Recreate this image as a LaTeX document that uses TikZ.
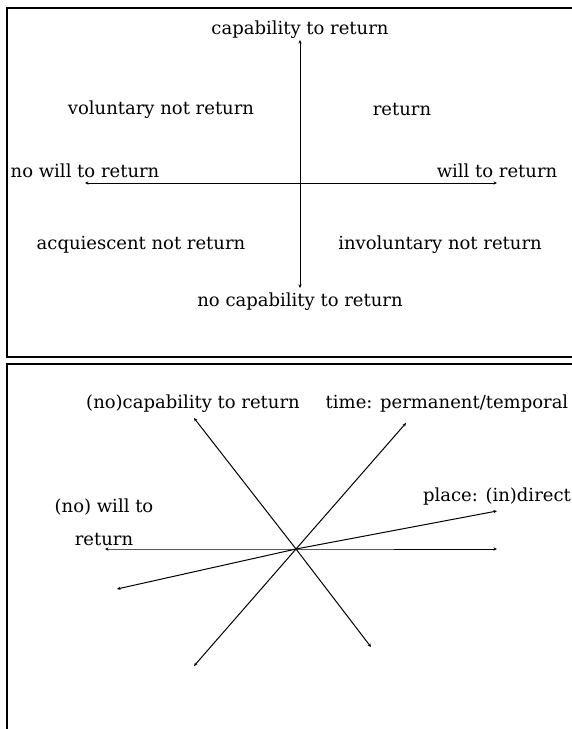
\documentclass[tikz,border=0pt]{standalone}
\usepackage{fontspec}
\setmainfont{DejaVu Serif}
\usetikzlibrary{arrows.meta}
\begin{document}
\begin{tikzpicture}[x=1pt,y=-1pt,
  lbl/.style={font=\fontsize{18}{21}\selectfont, inner sep=0pt, text=black},
  frame/.style={line width=2pt, draw=black},
  axis/.style={line width=1pt, {Stealth[length=3.5pt,width=3.2pt]}-{Stealth[length=3.5pt,width=3.2pt]}}]
\useasboundingbox (0,0) rectangle (572,729);
\clip (0,0) rectangle (572,729);
% frames
\draw[frame] (7,8) rectangle (590,357);
\draw[frame] (7,364) rectangle (590,760);
% top diagram
\coordinate (tN) at (300,40);
\coordinate (tS) at (300,288);
\coordinate (tW) at (85,183);
\coordinate (tE) at (497,183);
\draw[axis] (tS) -- (tN);
\draw[axis] (tW) -- (tE);
\node[lbl] (capN) at (300,30) {capability to return};
\node[lbl] (vol) at (161,110) {voluntary not return};
\node[lbl] (ret) at (402,110) {return};
\node[lbl] (nowill) at (85,171) {no will to return};
\node[lbl] (will) at (497,171) {will to return};
\node[lbl] (acq) at (141,245) {acquiescent not return};
\node[lbl] (invol) at (440,245) {involuntary not return};
\node[lbl] (capS) at (300,302) {no capability to return};
% bottom diagram
\coordinate (C) at (296,549);
\coordinate (hW) at (105,549);
\coordinate (hE) at (497,549);
\coordinate (cUL) at (194,418);
\coordinate (cLR) at (371,647);
\coordinate (tUR) at (406,423);
\coordinate (tLL) at (194,666);
\coordinate (pUR) at (497,511);
\coordinate (pLL) at (117,589);
\draw[axis] (hW) -- (C) -- (hE);
\draw[axis] (cUL) -- (C) -- (cLR);
\draw[axis] (tLL) -- (C) -- (tUR);
\draw[axis] (pLL) -- (C) -- (pUR);
\node[lbl] (capB) at (193,404) {(no)capability to return};
\node[lbl] (time) at (447,404) {time: permanent/temporal};
\node[lbl, align=center] (willB) at (104,522) {(no) will to\\[12pt]return};
\node[lbl] (place) at (497,497) {place: (in)direct};
\end{tikzpicture}
\end{document}
